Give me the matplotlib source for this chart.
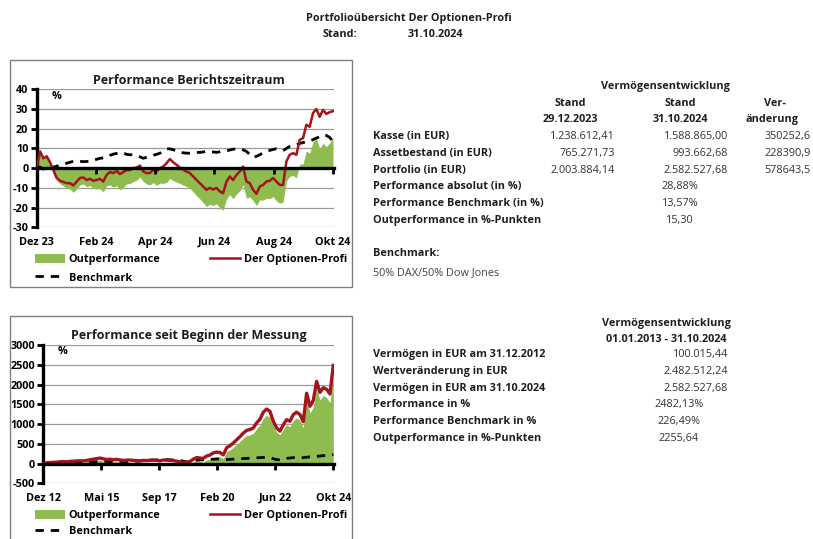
import numpy as np
import matplotlib
matplotlib.use("Agg")
import matplotlib.pyplot as plt
from matplotlib.patches import Rectangle, Patch
from matplotlib.lines import Line2D

# --- data: Berichtszeitraum (Dez 23 - Okt 24), % since 29.12.2023 ---
perf_ytd = [0, 8.5, 5, 6, 3, -1, -5, -6.4, -7, -7.6,
            -7.6, -8.8, -6.8, -5, -4.7, -6, -5.4, -6.4, -6, -5.4,
            -6.8, -3.4, -2, -2.5, -1.4, -3, -2, -1, -1, 0,
            0.3, 1.3, -1.7, -2.5, -2.5, -0.8, -1.7, 0, 0.8, 2.5,
            4.6, 3, 1.7, 0.3, -0.8, -1.7, -2.5, -4.2, -6, -7.6,
            -9.3, -11, -10, -10.8, -10, -11.8, -12.7, -6.8, -4.2, -6,
            -3.4, -1.7, 0.8, -6.8, -7.6, -11, -13, -9.3, -8.5, -6.8,
            -6.4, -5, -6.8, -8.5, -8.5, 3.4, 6.8, 7.6, 6.8, 14.4,
            15.2, 22, 21, 28, 30, 26, 29.6, 27.5, 28.4, 28.9]
bench_ytd = [0, 0.5, -0.5, -1, -0.5, 0.5, 1, 1.5, 2, 2.5,
             3, 3.5, 3.7, 3.5, 3.3, 3.4, 3.4, 4, 4.5, 5,
             5.2, 5.5, 6.5, 7.1, 7.5, 8, 7.8, 7, 6.8, 6.8,
             6.5, 5.8, 5, 5.5, 6, 6.5, 7, 7.6, 8.5, 9.8,
             9.8, 9.3, 8.8, 8, 7.8, 7.6, 7.6, 7.8, 8, 8,
             8.2, 8.5, 8.3, 8.2, 8, 8.3, 8.6, 8.8, 9.2, 9.6,
             9.7, 9.8, 9.3, 8.5, 7, 5.4, 6, 6.8, 7.8, 8.5,
             9, 9.5, 9.8, 9.3, 8.8, 10, 11, 11.3, 11.8, 12.5,
             13, 13.3, 13.5, 14.5, 15.2, 16, 17, 16.6, 15.6, 13.6]
ytd_ticklabels = ["Dez 23", "Feb 24", "Apr 24", "Jun 24", "Aug 24", "Okt 24"]

# --- data: seit Beginn der Messung (Dez 12 - Okt 24), % ---
perf_all = [0, 20, 25, 30, 35, 45, 50, 45, 55, 60,
            65, 70, 65, 80, 95, 110, 125, 140, 120, 100,
            110, 95, 105, 90, 80, 85, 90, 80, 75, 70,
            80, 75, 85, 90, 80, 70, 90, 85, 80, 75,
            60, 45, 30, 30, 50, 110, 150, 140, 130, 190,
            215, 270, 290, 280, 220, 400, 450, 520, 600, 680,
            770, 840, 860, 900, 1030, 1120, 1300, 1380, 1320, 1070,
            900, 820, 980, 1110, 1070, 1240, 1300, 1240, 1060, 1780,
            1450, 1600, 2080, 1800, 1920, 1880, 1760, 2482]
bench_all = [0, 5, 8, 10, 12, 15, 18, 20,
             22, 25, 28, 30, 32, 35, 40, 45, 50,
             55, 60, 55, 50, 55, 60, 55, 50, 45, 50,
             55, 60, 65, 70, 75, 80, 85, 90, 95, 100,
             100, 95, 90, 85, 80, 60, 40, 50, 70, 85,
             90, 95, 100, 105, 110, 115, 110, 95, 100, 105,
             110, 115, 120, 125, 130, 135, 140, 145, 150, 155,
             160, 150, 120, 100, 90, 110, 130, 140, 150, 145,
             140, 150, 160, 170, 175, 180, 190, 200, 210, 220,
             226]
all_ticklabels = ["Dez 12", "Mai 15", "Sep 17", "Feb 20", "Jun 22", "Okt 24"]

# --- tables ---
header_title = "Portfolioübersicht Der Optionen-Profi"
header_date = "31.10.2024"
top_rows = ["Kasse (in EUR)", "Assetbestand (in EUR)", "Portfolio (in EUR)",
            "Performance absolut (in %)", "Performance Benchmark (in %)",
            "Outperformance in %-Punkten"]
stand_2023 = ["1.238.612,41", "765.271,73", "2.003.884,14"]
stand_2024 = ["1.588.865,00", "993.662,68", "2.582.527,68"]
veraenderung = ["350252,6", "228390,9", "578643,5"]
perf_ytd_text = ["28,88%", "13,57%", "15,30"]

bottom_rows = ["Vermögen in EUR am 31.12.2012", "Wertveränderung in EUR",
               "Vermögen in EUR am 31.10.2024", "Performance in %",
               "Performance Benchmark in %", "Outperformance in %-Punkten"]
bottom_eur = ["100.015,44", "2.482.512,24", "2.582.527,68"]
bottom_pct = ["2482,13%", "226,49%", "2255,64"]

W, H = 813, 539
GREEN = "#8fbc4f"
RED = "#a3141b"
plt.rcParams["font.family"] = ["Open Sans", "DejaVu Sans"]

fig = plt.figure(figsize=(W / 100, H / 100), dpi=100)


def fx(px):
    return px / W


def fy(py):
    return 1 - py / H


def txt(x, y, s, ha="left", bold=True, color="#1e1e1e", size=7.8):
    fig.text(fx(x), fy(y), s, ha=ha, va="center_baseline", fontsize=size,
             fontweight="bold" if bold else "normal", color=color)


def chart(box, area, title, perf, bench, ticklabels, ylim, ystep,
          legend_y, legend_gap, red_lw):
    # frame around chart
    x0, y0, x1, y1 = box
    fig.patches.append(Rectangle((fx(x0), fy(y1)), fx(x1 - x0), (y1 - y0) / H,
                                 transform=fig.transFigure, fill=False,
                                 edgecolor="#808080", lw=1.0))
    l, t, r, b = area
    ax = fig.add_axes([fx(l), fy(b), fx(r - l), (b - t) / H])
    perf = np.array(perf, dtype=float)
    bench = np.array(bench, dtype=float)
    idx = np.arange(len(perf))
    out = perf - bench

    ax.set_ylim(*ylim)
    ax.set_xlim(0, len(perf) - 0.7)
    yt = np.arange(ylim[0], ylim[1] + 1, ystep)
    ax.set_yticks(yt)
    ax.set_yticklabels([str(int(v)) for v in yt], fontweight="bold", fontsize=7.8)
    ax.grid(axis="y", color="#9a9a9a", lw=0.9)
    ax.set_axisbelow(True)

    ax.fill_between(idx, 0, out, color=GREEN, lw=0, zorder=2)
    ax.plot(idx, bench, color="black", lw=2, ls=(0, (3, 2.5)), zorder=3)
    ax.plot(idx, perf, color=RED, lw=red_lw, zorder=4)

    step = (len(perf) - 1) / 5
    xt = [i * step for i in range(len(ticklabels))]
    ax.set_xticks(xt)
    ax.set_xticklabels(ticklabels, fontweight="bold", fontsize=7.8)
    ax.tick_params(axis="x", length=0, pad=7)
    ax.tick_params(axis="y", length=4, width=2, pad=2, direction="out")
    for s in ("top", "right", "bottom"):
        ax.spines[s].set_visible(False)
    ax.spines["left"].set_linewidth(2.4)

    zero = ax.secondary_xaxis((0 - ylim[0]) / (ylim[1] - ylim[0]))
    zero.set_xticks(xt)
    zero.set_xticklabels([])
    zero.tick_params(length=4, width=2, direction="out")
    zero.spines["bottom"].set_linewidth(2.4)
    zero.set_zorder(5)

    ax.text(0.05, 0.95, "%", transform=ax.transAxes, fontsize=7.8,
            fontweight="bold", va="center")
    fig.text(fx((x0 + x1) / 2 + 8), fy(t - 9), title, ha="center", va="center",
             fontsize=9, fontweight="bold", color="#1e1e1e")

    handles = [Patch(color=GREEN, lw=0),
               Line2D([], [], color="black", lw=2, ls=(0, (3, 2.5))),
               Line2D([], [], color=RED, lw=1.8)]
    labels = ["Outperformance", "Benchmark", "Der Optionen-Profi"]
    leg = fig.legend(handles, labels, loc="upper left", ncol=2,
                     bbox_to_anchor=(fx(x0 + 25), fy(legend_y)),
                     frameon=False, fontsize=7.8, handlelength=2.8,
                     handleheight=0.9, handletextpad=0.3, columnspacing=4.6,
                     labelspacing=legend_gap, borderpad=0, borderaxespad=0)
    for tx in leg.get_texts():
        tx.set_fontweight("bold")
    return ax


chart((10, 60, 352, 287), (36.7, 89.3, 334, 227.3), "Performance Berichtszeitraum",
      perf_ytd, bench_ytd, ytd_ticklabels, (-30, 40), 10, 254, 0.65, 1.8)
chart((10, 316, 352, 560), (43.3, 345, 334.3, 483.3), "Performance seit Beginn der Messung",
      perf_all, bench_all, all_ticklabels, (-500, 3000), 500, 510, 0.4, 2.4)

# header
txt(409, 17, header_title, ha="center")
txt(323, 33, "Stand:")
txt(435, 33, header_date, ha="center")

# top table
txt(665, 85, "Vermögensentwicklung", ha="center")
txt(570, 102, "Stand", ha="center")
txt(680, 102, "Stand", ha="center")
txt(775, 102, "Ver-", ha="center")
txt(570, 118, "29.12.2023", ha="center")
txt(680, 118, "31.10.2024", ha="center")
txt(772, 118, "änderung", ha="center")
row_y = [135 + 16.8 * i for i in range(len(top_rows))]
for i, name in enumerate(top_rows):
    txt(373, row_y[i], name)
for i in range(3):
    txt(615, row_y[i], stand_2023[i], ha="right", bold=False, color="#333333")
    txt(728, row_y[i], stand_2024[i], ha="right", bold=False, color="#333333")
    txt(811, row_y[i], veraenderung[i], ha="right", bold=False, color="#333333")
    txt(680, row_y[3 + i], perf_ytd_text[i], ha="center", bold=False, color="#333333")
txt(373, 252, "Benchmark:")
txt(373, 271, "50% DAX/50% Dow Jones", bold=False, color="#444444")

# bottom table
txt(666, 322, "Vermögensentwicklung", ha="center")
txt(666, 338, "01.01.2013 - 31.10.2024", ha="center")
brow_y = [353 + 16.8 * i for i in range(len(bottom_rows))]
for i, name in enumerate(bottom_rows):
    txt(373, brow_y[i], name)
for i in range(3):
    txt(728, brow_y[i], bottom_eur[i], ha="right", bold=False, color="#333333")
    txt(679, brow_y[3 + i], bottom_pct[i], ha="center", bold=False, color="#333333")

fig.savefig("out.png", dpi=100)
